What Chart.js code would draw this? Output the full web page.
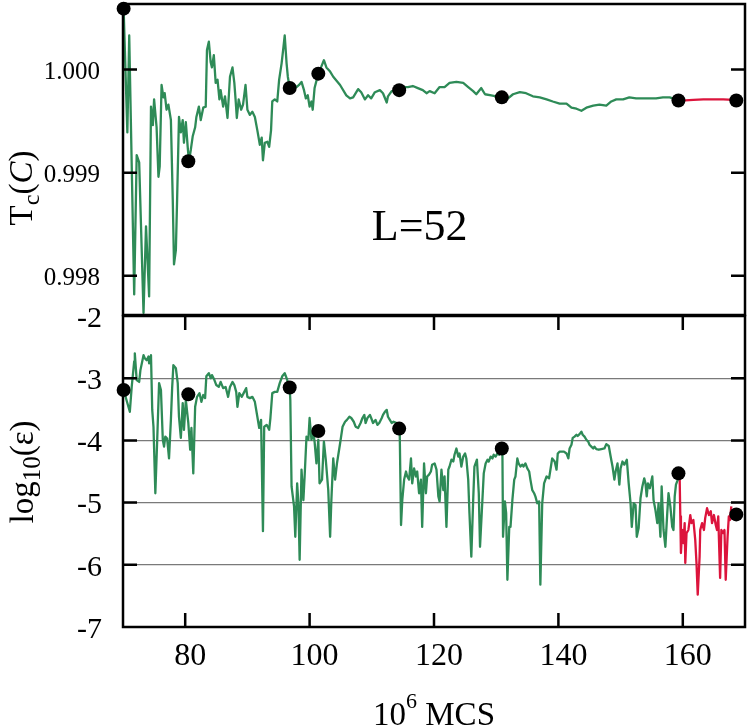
<!DOCTYPE html>
<html>
<head>
<meta charset="utf-8">
<script src="https://cdn.jsdelivr.net/npm/chart.js@4.4.1/dist/chart.umd.min.js"></script>
<style>
  html, body { margin: 0; padding: 0; background: #fff; }
  #quadro { position: relative; width: 747px; height: 727px; }
  canvas { position: absolute; left: 0; top: 0; }
</style>
</head>
<body>
<div id="quadro">
  <canvas id="graficoEps" width="747" height="727"></canvas>
  <canvas id="graficoTc" width="747" height="727"></canvas>
</div>
<script>
// DADOS

const xTicks = [80, 100, 120, 140, 160];
const tcTicks = [0.998, 0.999, 1.0];
const epsTicks = [-7, -6, -5, -4, -3, -2];

// pontos pretos (mesmo x nos dois paineis)
const pontosX = [70.1, 80.5, 96.8, 101.4, 114.4, 130.9, 159.3, 168.6];
const pontosTc = [1.00059, 0.99911, 0.99982, 0.99996, 0.9998, 0.99973, 0.9997, 0.9997];
const pontosEps = [-3.19, -3.26, -3.15, -3.85, -3.81, -4.13, -4.53, -5.19];

// Tc(C) - [x, y]
const tcVerde = [
  [70.1, 1.00059], [70.7, 0.99939], [71.0, 1.00033], [71.8, 0.99782], [72.2, 0.99917],
  [72.6, 0.9991], [73.3, 0.99764], [73.7, 0.99848], [74.2, 0.9978], [74.5, 0.99964],
  [74.8, 0.99946], [75.0, 0.99971], [75.4, 0.99944], [75.7, 0.99896], [75.9, 0.99906],
  [76.2, 0.99985], [76.5, 0.99973], [76.7, 0.99977], [77.0, 0.99961], [77.3, 0.99966],
  [77.7, 0.99951], [78.0, 0.99874], [78.2, 0.99811], [78.5, 0.99825], [78.7, 0.99874],
  [79.0, 0.99954], [79.3, 0.99939], [79.6, 0.99951], [79.8, 0.99929], [80.1, 0.99949],
  [80.4, 0.99925], [80.6, 0.99911], [80.9, 0.99922], [81.2, 0.99935], [81.6, 0.99944],
  [81.8, 0.99954], [82.2, 0.99964], [82.5, 0.99951], [82.9, 0.99963], [83.3, 0.99964],
  [83.5, 1.00019], [83.8, 1.00027], [84.1, 1.00007], [84.3, 1.00002], [84.6, 1.00014],
  [84.9, 0.99987], [85.2, 0.9999], [85.5, 0.99971], [85.7, 0.9998], [86.1, 0.99964],
  [86.4, 0.99974], [86.8, 0.99953], [87.2, 0.99993], [87.6, 1.00002], [87.9, 0.99987],
  [88.1, 0.99971], [88.3, 0.99953], [88.6, 0.99971], [89.0, 0.99961], [89.3, 0.99966],
  [89.7, 0.99985], [90.0, 0.99961], [90.4, 0.99956], [90.8, 0.99959], [91.2, 0.99954],
  [91.6, 0.99941], [92.0, 0.99927], [92.3, 0.99934], [92.5, 0.99912], [92.8, 0.99929],
  [93.2, 0.9993], [93.5, 0.99925], [93.8, 0.99941], [94.0, 0.99969], [94.4, 0.99971],
  [94.8, 0.99969], [95.1, 0.9999], [95.5, 1.00006], [95.8, 1.00022], [96.0, 1.00033],
  [96.3, 1.00006], [96.5, 0.99993], [96.8, 0.99982], [97.1, 0.99983], [97.5, 0.99985],
  [97.9, 0.99983], [98.3, 0.99985], [98.7, 0.99988], [99.1, 0.9998], [99.4, 0.99972],
  [99.7, 0.99975], [100.0, 0.99964], [100.3, 0.99969], [100.5, 0.99961], [100.8, 0.99982],
  [101.4, 0.99996], [101.9, 1.00003], [102.3, 1.00009], [102.7, 1.00002], [103.3, 0.99998],
  [103.8, 0.99993], [104.9, 0.99985], [105.9, 0.99975], [106.5, 0.99972], [107.0, 0.99973],
  [107.8, 0.99981], [108.3, 0.99978], [108.9, 0.99971], [109.4, 0.99975], [109.9, 0.99972],
  [110.5, 0.99978], [111.3, 0.9998], [111.8, 0.99977], [112.4, 0.99968], [112.6, 0.99974],
  [113.2, 0.99979], [114.4, 0.9998], [115.0, 0.99983], [115.8, 0.99983], [116.6, 0.99984],
  [117.4, 0.99982], [118.2, 0.9998], [118.8, 0.99977], [119.3, 0.99979], [120.1, 0.99977],
  [120.9, 0.99983], [121.7, 0.99983], [122.5, 0.99987], [123.6, 0.99988], [124.7, 0.99987],
  [125.5, 0.99983], [126.3, 0.99979], [126.8, 0.99976], [127.6, 0.99982], [128.2, 0.99976],
  [129.2, 0.99975], [130.0, 0.99974], [130.9, 0.99973], [131.9, 0.99972], [132.7, 0.99976],
  [133.8, 0.99978], [134.8, 0.99977], [135.9, 0.99974], [137.0, 0.99973], [138.1, 0.99971],
  [139.1, 0.99969], [140.2, 0.99967], [141.3, 0.99967], [142.1, 0.99963], [142.9, 0.99962],
  [143.7, 0.9996], [144.5, 0.99963], [145.6, 0.99965], [146.6, 0.99966], [147.7, 0.99965],
  [148.5, 0.99969], [149.3, 0.99971], [150.4, 0.99971], [151.4, 0.99973], [152.5, 0.99972],
  [153.6, 0.99972], [154.7, 0.99972], [155.7, 0.99972], [156.8, 0.99973], [157.9, 0.99973],
  [159.3, 0.9997]
];
const tcVermelho = [
  [159.3, 0.9997], [160.4, 0.9997], [161.7, 0.999705], [163.3, 0.99971], [164.9, 0.99971],
  [166.5, 0.99971], [168.1, 0.999705], [168.6, 0.999705]
];

// log10(eps) - [x, y]
const epsVerde = [
  [70.1, -3.19], [71.1, -3.54], [71.4, -3.14], [71.8, -2.73], [71.9, -2.6], [72.2, -3.03],
  [72.6, -3.06], [72.8, -2.87], [73.3, -2.63], [73.5, -2.68], [73.8, -2.71], [74.1, -2.65],
  [74.2, -2.76], [74.5, -2.63], [74.7, -3.51], [74.9, -3.78], [75.2, -4.85], [75.5, -3.99],
  [75.8, -3.08], [76.1, -3.19], [76.4, -3.99], [76.6, -4.1], [76.8, -3.94], [77.1, -3.97],
  [77.4, -4.29], [77.7, -3.67], [77.9, -3.16], [78.1, -2.79], [78.5, -2.84], [78.8, -3.08],
  [79.0, -3.62], [79.3, -3.96], [79.6, -3.4], [79.8, -3.83], [80.1, -3.35], [80.5, -3.72],
  [80.8, -4.15], [81.0, -3.8], [81.3, -4.53], [81.6, -3.46], [81.9, -3.3], [82.3, -3.24],
  [82.6, -3.38], [82.9, -3.27], [83.2, -3.32], [83.4, -2.97], [83.8, -2.92], [84.1, -3.0],
  [84.3, -2.95], [84.7, -3.03], [85.0, -3.11], [85.4, -3.14], [85.7, -3.06], [86.1, -3.16],
  [86.5, -3.14], [86.9, -3.3], [87.2, -3.14], [87.6, -3.06], [87.9, -3.11], [88.2, -3.22],
  [88.4, -3.46], [88.7, -3.24], [89.1, -3.3], [89.4, -3.24], [89.8, -3.16], [90.0, -3.3],
  [90.4, -3.32], [90.8, -3.3], [91.2, -3.38], [91.6, -3.62], [91.9, -3.8], [92.2, -3.67],
  [92.5, -5.46], [92.7, -3.78], [93.1, -3.75], [93.5, -3.83], [93.7, -3.64], [94.0, -3.24],
  [94.4, -3.22], [94.8, -3.22], [95.2, -3.08], [95.6, -2.97], [96.0, -2.92], [96.3, -3.0],
  [96.8, -3.15], [96.9, -3.35], [97.1, -4.74], [97.5, -5.06], [97.7, -5.55], [98.0, -4.69],
  [98.2, -5.01], [98.4, -5.92], [98.7, -4.47], [99.0, -4.96], [99.2, -4.58], [99.5, -3.94],
  [99.8, -3.99], [100.0, -3.64], [100.3, -3.99], [100.6, -3.88], [100.8, -4.02], [101.1, -4.37],
  [101.4, -3.99], [101.6, -4.69], [102.0, -4.63], [102.3, -4.02], [102.6, -4.31], [103.0, -4.8],
  [103.3, -5.55], [103.5, -4.96], [103.8, -4.29], [104.1, -4.63], [104.4, -4.37], [104.9, -4.05],
  [105.3, -3.78], [105.7, -3.7], [106.0, -3.67], [106.4, -3.62], [106.7, -3.64], [107.1, -3.7],
  [107.4, -3.78], [107.8, -3.8], [108.2, -3.72], [108.5, -3.64], [108.8, -3.59], [109.0, -3.72],
  [109.3, -3.64], [109.7, -3.59], [109.9, -3.64], [110.2, -3.72], [110.6, -3.67], [110.9, -3.75],
  [111.2, -3.72], [111.6, -3.64], [111.8, -3.59], [112.1, -3.54], [112.4, -3.51], [112.6, -3.62],
  [112.9, -3.67], [113.2, -3.72], [113.5, -3.7], [114.0, -3.72], [114.4, -3.8], [114.5, -3.94],
  [114.7, -5.36], [114.9, -4.96], [115.2, -4.63], [115.5, -4.5], [115.7, -4.58], [116.0, -4.63],
  [116.3, -4.29], [116.5, -4.69], [116.8, -4.45], [117.1, -4.58], [117.3, -4.5], [117.6, -4.85],
  [117.9, -4.63], [118.1, -5.39], [118.4, -4.37], [118.7, -4.85], [118.9, -4.58], [119.2, -4.55],
  [119.5, -4.5], [119.7, -4.39], [120.1, -4.37], [120.4, -4.47], [120.7, -4.9], [120.9, -4.98],
  [121.2, -4.47], [121.5, -4.8], [121.7, -4.58], [122.0, -5.39], [122.3, -4.47], [122.5, -4.42],
  [122.8, -4.31], [123.1, -4.34], [123.3, -4.23], [123.6, -4.13], [123.9, -4.26], [124.1, -4.21],
  [124.4, -4.42], [124.7, -4.26], [125.0, -4.21], [125.2, -4.29], [125.5, -4.63], [125.7, -5.17],
  [126.0, -5.87], [126.3, -4.96], [126.5, -4.42], [126.9, -4.31], [127.2, -4.85], [127.4, -5.71],
  [127.7, -5.12], [128.0, -4.53], [128.3, -4.37], [128.6, -4.31], [128.8, -4.34], [129.1, -4.26],
  [129.4, -4.29], [129.6, -4.23], [129.9, -4.26], [130.2, -4.21], [130.5, -4.23], [130.9, -4.13],
  [131.0, -4.21], [131.1, -5.55], [131.4, -4.98], [131.6, -5.17], [131.8, -6.24], [132.1, -5.39],
  [132.3, -5.39], [132.6, -4.96], [132.9, -4.63], [133.1, -4.58], [133.4, -4.29], [133.6, -4.37],
  [133.9, -4.42], [134.2, -4.39], [134.4, -4.42], [134.7, -4.37], [135.0, -4.45], [135.3, -4.5],
  [135.5, -4.63], [135.8, -4.8], [136.1, -4.85], [136.3, -4.9], [136.6, -5.01], [136.9, -4.98],
  [137.1, -6.32], [137.4, -5.01], [137.7, -4.69], [138.1, -4.58], [138.5, -4.61], [138.8, -4.42],
  [139.0, -4.29], [139.4, -4.34], [139.7, -4.47], [139.9, -4.21], [140.2, -4.18], [140.6, -4.18],
  [140.9, -4.18], [141.3, -4.21], [141.6, -4.29], [141.8, -4.13], [142.1, -4.07], [142.3, -3.96],
  [142.6, -3.94], [142.9, -3.91], [143.1, -3.93], [143.4, -3.9], [143.7, -3.86], [143.9, -3.91],
  [144.2, -3.94], [144.5, -3.99], [144.8, -4.02], [145.0, -4.07], [145.3, -4.1], [145.6, -4.13],
  [145.8, -4.1], [146.1, -4.14], [146.5, -4.15], [146.9, -4.14], [147.4, -4.13], [147.7, -4.06],
  [148.1, -4.09], [148.4, -4.26], [148.7, -4.42], [149.0, -4.63], [149.2, -4.5], [149.5, -4.37],
  [149.8, -4.71], [150.0, -4.45], [150.3, -4.34], [150.6, -4.39], [151.0, -4.31], [151.3, -4.69],
  [151.6, -5.01], [151.8, -5.39], [152.1, -5.01], [152.4, -5.04], [152.6, -5.55], [152.9, -5.41],
  [153.2, -4.93], [153.5, -4.74], [153.8, -4.61], [154.0, -4.69], [154.2, -4.9], [154.4, -4.69],
  [154.7, -4.77], [155.0, -4.63], [155.1, -4.58], [155.3, -4.96], [155.6, -5.12], [155.9, -5.33],
  [156.1, -5.01], [156.4, -5.55], [156.6, -4.74], [156.9, -5.44], [157.2, -5.71], [157.5, -5.17],
  [157.7, -4.85], [158.0, -5.06], [158.3, -5.39], [158.5, -5.44], [158.7, -4.9], [158.9, -4.71],
  [159.2, -4.63], [159.3, -4.53]
];
const epsVermelho = [
  [159.3, -4.53], [159.5, -4.63], [159.6, -5.22], [159.7, -5.81], [159.9, -5.44], [160.1, -5.65],
  [160.3, -5.33], [160.4, -5.97], [160.6, -5.49], [160.9, -5.44], [161.2, -5.2], [161.4, -5.33],
  [161.7, -5.28], [162.0, -5.6], [162.2, -5.97], [162.4, -6.48], [162.7, -5.87], [162.8, -5.44],
  [163.1, -5.33], [163.4, -5.44], [163.6, -5.25], [163.9, -5.09], [164.2, -5.2], [164.5, -5.14],
  [164.7, -5.33], [165.0, -5.2], [165.3, -5.36], [165.5, -5.44], [165.7, -5.22], [166.0, -6.21],
  [166.2, -5.44], [166.5, -5.49], [166.7, -5.44], [166.9, -6.24], [167.2, -5.55], [167.4, -5.22],
  [167.6, -5.28], [167.8, -5.06]
];

// ESTILO

const SERIF = '"Liberation Serif", "DejaVu Serif", serif';
const VERDE = "#2e8b57";
const VERMELHO = "#dc143c";

Chart.defaults.font.family = SERIF;
Chart.defaults.color = "#000";

const pares = (lista) => lista.map(([x, y]) => ({ x, y }));
const pontos = (ys) => pontosX.map((x, i) => ({ x, y: ys[i] }));

// moldura + ticks para dentro
const molduraPlugin = {
  id: "moldura",
  afterDatasetsDraw(chart, args, opts) {
    const { ctx, chartArea: a, scales } = chart;
    const tam = 14;
    ctx.save();
    ctx.strokeStyle = "#000";
    ctx.lineWidth = 2.5;
    ctx.strokeRect(a.left, a.top, a.right - a.left, a.bottom - a.top);
    ctx.beginPath();
    scales.y.ticks.forEach((t) => {
      const py = scales.y.getPixelForValue(t.value);
      if (py <= a.top + 1 || py >= a.bottom - 1) return;
      ctx.moveTo(a.left, py);
      ctx.lineTo(a.left + tam, py);
      ctx.moveTo(a.right, py);
      ctx.lineTo(a.right - tam, py);
    });
    if (opts.ticksX) {
      scales.x.ticks.forEach((t) => {
        const px = scales.x.getPixelForValue(t.value);
        ctx.moveTo(px, a.top);
        ctx.lineTo(px, a.top + tam);
        ctx.moveTo(px, a.bottom);
        ctx.lineTo(px, a.bottom - tam);
      });
    }
    ctx.stroke();
    ctx.restore();
  },
};

function textoComposto(ctx, partes, x, y, centro) {
  let largura = 0;
  partes.forEach((p) => {
    ctx.font = p.fonte;
    largura += ctx.measureText(p.t).width;
  });
  let cx = centro ? x - largura / 2 : x;
  partes.forEach((p) => {
    ctx.font = p.fonte;
    ctx.fillText(p.t, cx, y + (p.dy || 0));
    cx += ctx.measureText(p.t).width;
  });
}

const rotulosTcPlugin = {
  id: "rotulosTc",
  afterDraw(chart) {
    const { ctx, scales } = chart;
    ctx.save();
    ctx.fillStyle = "#000";
    ctx.textAlign = "left";
    ctx.textBaseline = "alphabetic";
    // L=52
    ctx.font = `44px ${SERIF}`;
    ctx.fillText("L=52", scales.x.getPixelForValue(110), scales.y.getPixelForValue(0.99835));
    // titulo do eixo y
    ctx.translate(32, 188);
    ctx.rotate(-Math.PI / 2);
    textoComposto(ctx, [
      { t: "T", fonte: `33px ${SERIF}` },
      { t: "c", fonte: `24px ${SERIF}`, dy: 7 },
      { t: "(", fonte: `33px ${SERIF}` },
      { t: "C", fonte: `italic 33px ${SERIF}` },
      { t: ")", fonte: `33px ${SERIF}` },
    ], 0, 0, true);
    ctx.restore();
  },
};

const rotulosEpsPlugin = {
  id: "rotulosEps",
  afterDraw(chart) {
    const { ctx, chartArea: a } = chart;
    ctx.save();
    ctx.fillStyle = "#000";
    ctx.textAlign = "left";
    ctx.textBaseline = "alphabetic";
    // titulo do eixo x
    textoComposto(ctx, [
      { t: "10", fonte: `33px ${SERIF}` },
      { t: "6", fonte: `22px ${SERIF}`, dy: -17 },
      { t: " MCS", fonte: `33px ${SERIF}` },
    ], (a.left + a.right) / 2, 725, true);
    // titulo do eixo y
    ctx.translate(33, 472);
    ctx.rotate(-Math.PI / 2);
    textoComposto(ctx, [
      { t: "log", fonte: `33px ${SERIF}` },
      { t: "10", fonte: `25px ${SERIF}`, dy: 7 },
      { t: "(ε)", fonte: `33px ${SERIF}` },
    ], 0, 0, true);
    ctx.restore();
  },
};

const linha = (dados, cor) => ({
  data: pares(dados),
  borderColor: cor,
  borderWidth: 2.3,
  borderJoinStyle: "round",
  pointRadius: 0,
  tension: 0,
  order: 1,
});

const bolinhas = (ys) => ({
  data: pontos(ys),
  showLine: false,
  pointRadius: 7,
  pointBackgroundColor: "#000",
  pointBorderWidth: 0,
  clip: false,
  order: 0,
});

// PAINEL DE BAIXO - log10(eps)

let graficoEps = new Chart(document.getElementById("graficoEps"), {
  type: "line",
  data: {
    datasets: [bolinhas(pontosEps), linha(epsVerde, VERDE), linha(epsVermelho, VERMELHO)],
  },
  options: {
    responsive: false,
    animation: false,
    events: [],
    layout: { autoPadding: false, padding: { top: 316, right: 2, bottom: 0, left: 0 } },
    plugins: {
      legend: { display: false },
      tooltip: { enabled: false },
      moldura: { ticksX: true },
    },
    scales: {
      x: {
        type: "linear",
        min: 70,
        max: 170,
        afterBuildTicks: (s) => { s.ticks = xTicks.map((v) => ({ value: v })); },
        afterFit: (s) => { s.height = 100; s.paddingLeft = 0; s.paddingRight = 0; },
        grid: { display: false, drawTicks: false },
        border: { display: false },
        ticks: { font: { size: 32 }, padding: 10, labelOffset: 5, maxRotation: 0, autoSkip: false },
      },
      y: {
        min: -7,
        max: -2,
        afterBuildTicks: (s) => { s.ticks = epsTicks.map((v) => ({ value: v })); },
        afterFit: (s) => { s.width = 123; s.paddingTop = 0; s.paddingBottom = 0; },
        grid: {
          drawTicks: false,
          lineWidth: 1.2,
          color: (c) => (c.tick && (c.tick.value === -2 || c.tick.value === -7) ? "rgba(0,0,0,0)" : "#7a7a7a"),
        },
        border: { display: false },
        ticks: { font: { size: 30 }, padding: 21, labelOffset: 3, callback: (v) => String(v) },
      },
    },
  },
  plugins: [molduraPlugin, rotulosEpsPlugin],
});

// PAINEL DE CIMA - Tc(C)

let graficoTc = new Chart(document.getElementById("graficoTc"), {
  type: "line",
  data: {
    datasets: [bolinhas(pontosTc), linha(tcVerde, VERDE), linha(tcVermelho, VERMELHO)],
  },
  options: {
    responsive: false,
    animation: false,
    events: [],
    layout: { autoPadding: false, padding: { top: 4, right: 2, bottom: 412, left: 0 } },
    plugins: {
      legend: { display: false },
      tooltip: { enabled: false },
      moldura: { ticksX: false },
    },
    scales: {
      x: { type: "linear", min: 70, max: 170, display: false },
      y: {
        min: 0.99762,
        max: 1.000635,
        afterBuildTicks: (s) => { s.ticks = tcTicks.map((v) => ({ value: v })); },
        afterFit: (s) => { s.width = 123; s.paddingTop = 0; s.paddingBottom = 0; },
        grid: { display: false, drawTicks: false },
        border: { display: false },
        ticks: { font: { size: 25 }, padding: 23, labelOffset: 3, callback: (v) => v.toFixed(3) },
      },
    },
  },
  plugins: [molduraPlugin, rotulosTcPlugin],
});
</script>
</body>
</html>
